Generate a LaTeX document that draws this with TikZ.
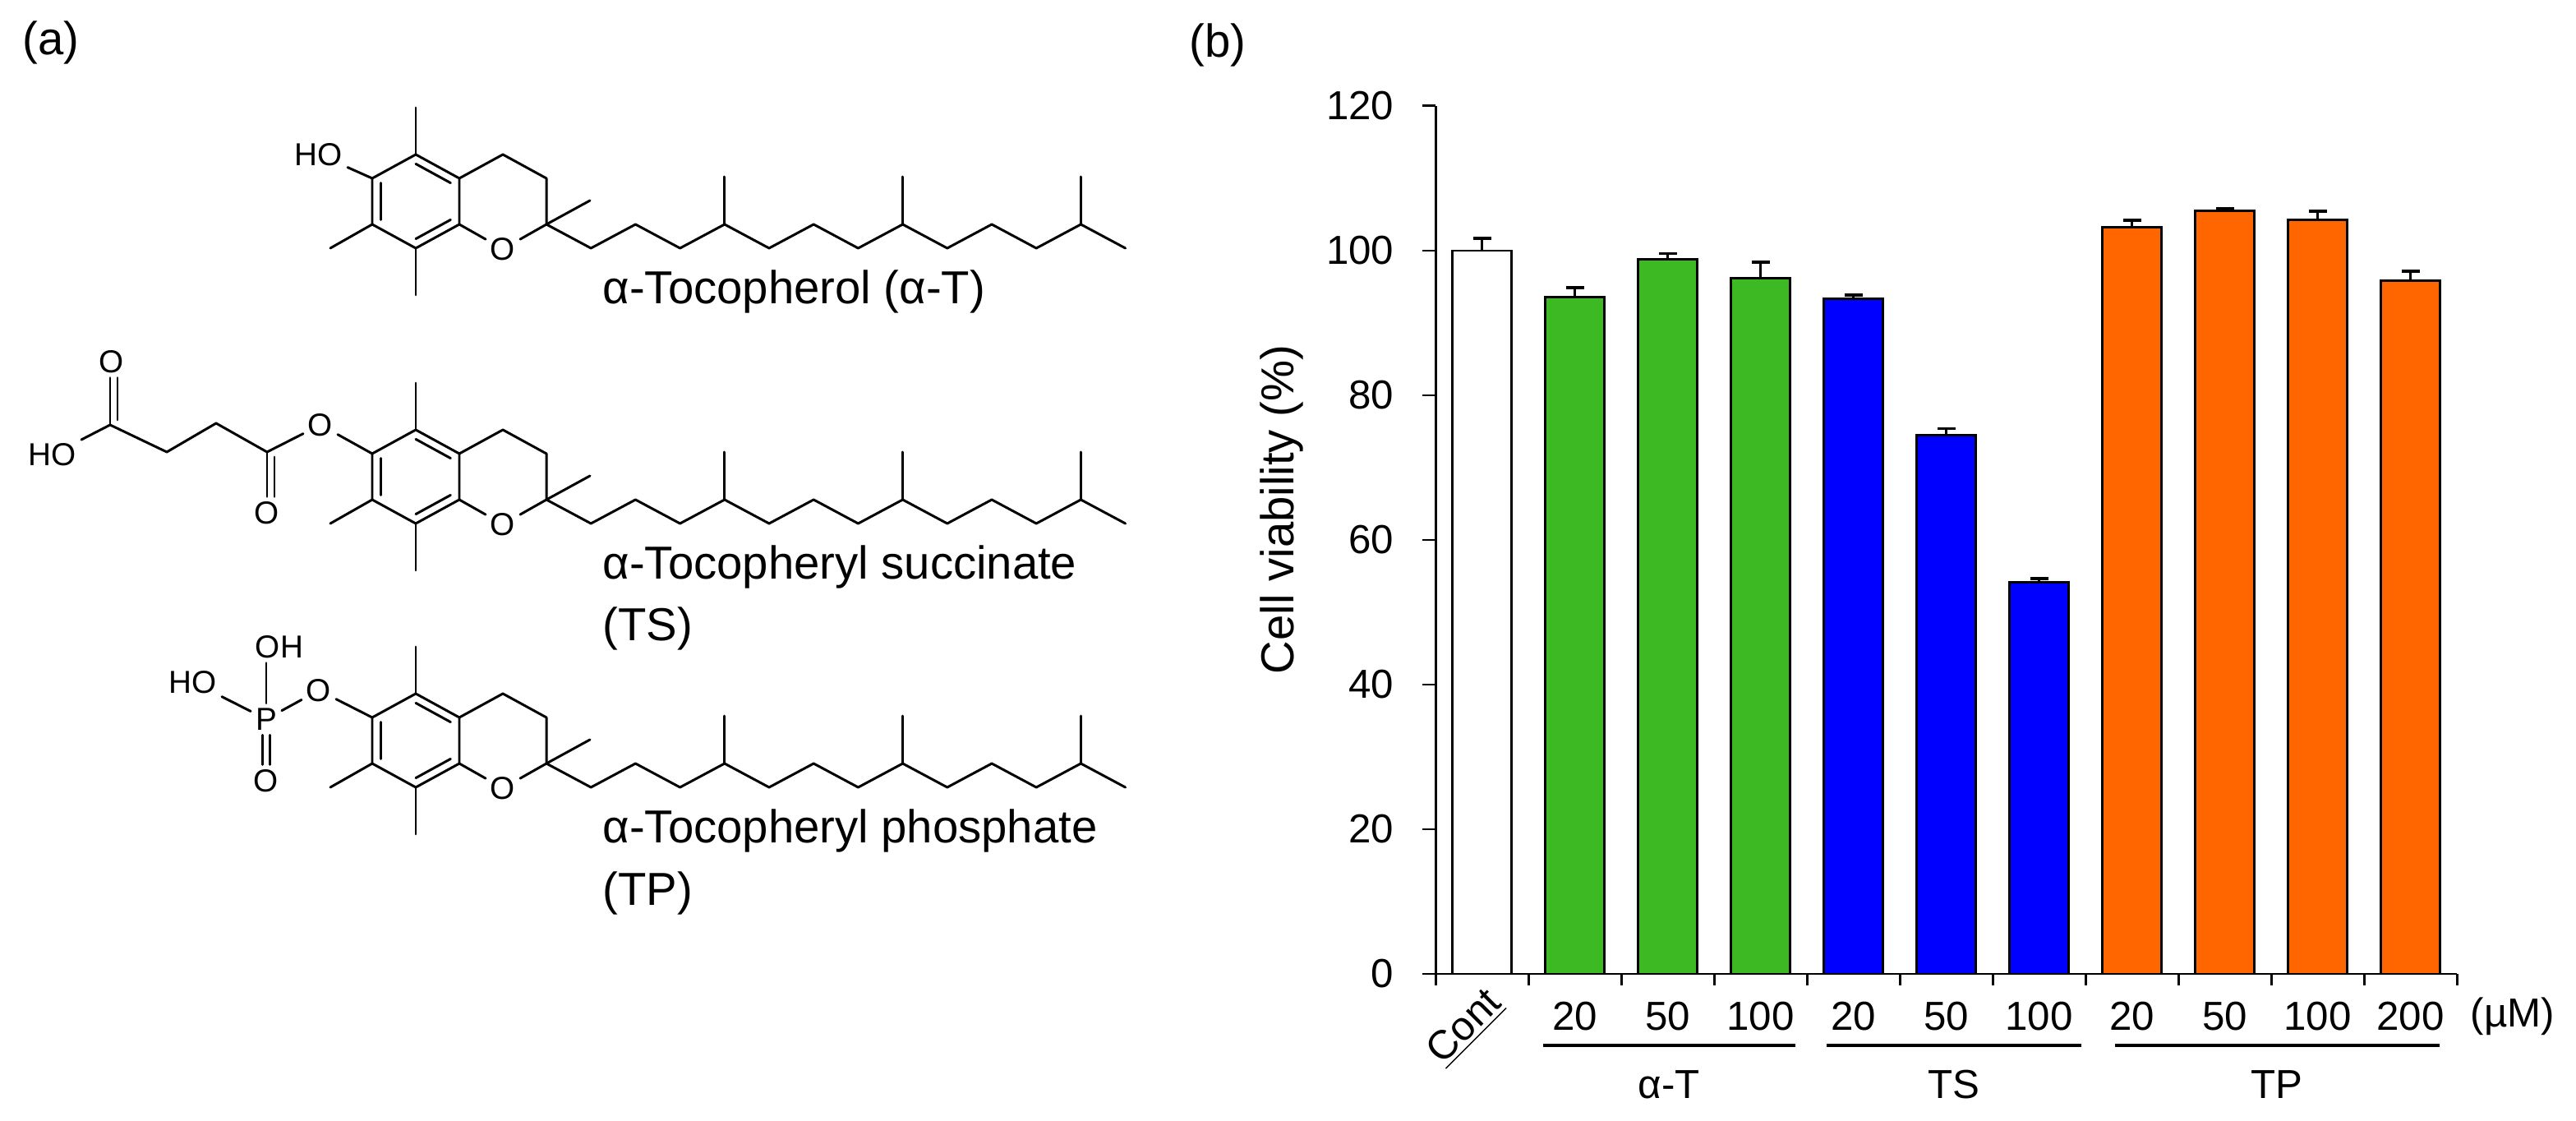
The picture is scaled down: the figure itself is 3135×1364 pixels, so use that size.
\documentclass[tikz,border=0pt]{standalone}
\usepackage{fontspec}
\setmainfont{Liberation Sans}
\usetikzlibrary{calc}
\definecolor{tgreen}{RGB}{60,185,35}
\definecolor{tblue}{RGB}{0,0,255}
\definecolor{torange}{RGB}{255,102,0}
\tikzset{
  bond/.style={line width=0.85pt, line cap=round, line join=round},
  atom/.style={font=\fontsize{11pt}{13pt}\selectfont, inner sep=1.5pt},
  mlabel/.style={font=\fontsize{16pt}{19pt}\selectfont, anchor=west, inner sep=0pt},
  tlabel/.style={font=\fontsize{14pt}{17pt}\selectfont, inner sep=0pt},
  barbox/.style={line width=0.85pt, draw=black},
}
\newcommand{\tococore}[2]{%
  \begin{scope}[shift={(#1,#2)}]
    \coordinate (C) at (0,0);
    \coordinate (T) at (0,-57); \coordinate (UR) at (53,-28);
    \coordinate (LR) at (53,28); \coordinate (B) at (0,57);
    \coordinate (LL) at (-53,28); \coordinate (UL) at (-53,-28);
    \coordinate (PT) at (106,-57); \coordinate (PUR) at (159,-28);
    \coordinate (C2) at (159,28);
    \node[atom] (Or) at (106,58) {O};
    \draw[bond] (T)--(UR)--(LR)--(B)--(LL)--(UL)--cycle;
    \draw[bond] ($(C)!0.8!(T)$)--($(C)!0.8!(UR)$);
    \draw[bond] ($(C)!0.8!(UL)$)--($(C)!0.8!(LL)$);
    \draw[bond] ($(C)!0.8!(B)$)--($(C)!0.8!(LR)$);
    \draw[bond] (T)--++(0,-57);
    \draw[bond] (B)--++(0,57);
    \draw[bond] (LL)--++(-51,29);
    \draw[bond] (UR)--(PT)--(PUR)--(C2)--(Or)--(LR);
    \draw[bond] (C2)--++(53,-29);
    \draw[bond] (C2) \foreach \i in {1,...,13}{ -- ({159+54.2*\i},{ifthenelse(mod(\i,2)==1,57,28)}) };
    \foreach \i in {4,8,12} \draw[bond] ({159+54.2*\i},28)--++(0,-58);
  \end{scope}}
\begin{document}
\begin{tikzpicture}[x=0.01cm,y=-0.01cm]
\useasboundingbox (0,0) rectangle (3135,1364);
\node[mlabel, anchor=center] (pa) at (62,52) {(a)};
\node[mlabel, anchor=center] (pb) at (1482,55) {(b)};

% molecule 1
\tococore{506}{245}
\node[atom] (HO1) at (388,188) {HO};
\draw[bond] (HO1)--(UL);
\node[mlabel] (L1) at (733,355) {α-Tocopherol (α-T)};

% molecule 2
\tococore{506}{580}
\node[atom] (Oe2) at (390,517) {O};
\coordinate (Cc) at (325,550);
\node[atom] (Oc) at (325,624) {O};
\coordinate (C2c) at (263,515);
\coordinate (C3c) at (203,550);
\coordinate (C4c) at (134,517);
\node[atom] (Ot) at (136,440) {O};
\node[atom] (HO2) at (64,553) {HO};
\draw[bond] (UL)--(Oe2)--(Cc)--(C2c)--(C3c)--(C4c)--(HO2);
\draw[bond] (Cc)--(Oc.north -| Cc);
\draw[bond] ($(Cc)+(9,6)$)--($(Oc.north)+(9,0)$);
\draw[bond] (C4c)--(Ot.south -| C4c);
\draw[bond] ($(C4c)+(9,-6)$)--($(Ot.south)+(7,0)$);
\node[mlabel] (L2) at (733,690) {α-Tocopheryl succinate};
\node[mlabel] (L2b) at (733,765) {(TS)};

% molecule 3
\tococore{506}{901}
\node[atom] (P3) at (324,875) {P};
\node[atom] (Oe3) at (388,840) {O};
\node[atom] (OH3) at (340,787) {OH};
\node[atom] (HO3) at (235,830) {HO};
\node[atom] (Ob3) at (324,950) {O};
\draw[bond] (UL)--(Oe3)--(P3)--(HO3);
\draw[bond] (P3.north)--(P3.north |- OH3.south);
\draw[bond] ($(P3.south)+(-4.5,0)$)--($(Ob3.north)+(-4.5,0)$);
\draw[bond] ($(P3.south)+(4.5,0)$)--($(Ob3.north)+(4.5,0)$);
\node[mlabel] (L3) at (733,1011) {α-Tocopheryl phosphate};
\node[mlabel] (L3b) at (733,1087) {(TP)};

% chart
\node[font=\fontsize{16pt}{19pt}\selectfont, rotate=90, inner sep=0pt] (ylab) at (1560,620) {Cell viability (\%)};
\coordinate (ytop) at (1747,129);
\coordinate (org) at (1747,1185);
\coordinate (xend) at (2990,1185);
\foreach \v in {0,20,...,120}{
  \draw[bond, line cap=butt] (1731,{1185-8.8*\v})--(1747,{1185-8.8*\v});
  \node[tlabel, anchor=east] (yl\v) at (1697,{1185-8.8*\v}) {\v};
}
\foreach \k in {0,...,11} \draw[bond, line cap=butt] ({1747+113*\k},1185)--++(0,14);
\foreach \k/\v/\e/\col in {0/100/1.7/white,1/93.6/1.3/tgreen,2/98.8/0.8/tgreen,3/96.2/2.2/tgreen,
  4/93.4/0.5/tblue,5/74.5/0.9/tblue,6/54.2/0.5/tblue,
  7/103.2/1.0/torange,8/105.5/0.3/torange,9/104.3/1.2/torange,10/95.9/1.3/torange}{
  \pgfmathsetmacro{\cx}{1803.5+113*\k}
  \pgfmathsetmacro{\top}{1185-8.8*\v}
  \pgfmathsetmacro{\et}{1185-8.8*(\v+\e)}
  \draw[barbox, fill=\col] ({\cx-36},1185) rectangle ({\cx+36},\top);
  \draw[bond, line cap=butt] (\cx,\top)--(\cx,\et);
  \draw[line width=1.1pt] ({\cx-11},\et)--({\cx+11},\et);
}
\draw[bond, line cap=butt] (ytop)--(org)--(xend);
\node[tlabel, rotate=45] (cont) at (1783,1250) {\underline{Cont}};
\foreach \k/\t in {1/20,2/50,3/100,4/20,5/50,6/100,7/20,8/50,9/100,10/200}
  \node[tlabel] (n\k) at ({1803.5+113*\k},1237) {\t};
\node[tlabel] (um) at (3058,1237) {(µM)};
\draw[line width=1.3pt] (1878,1272)--(2185,1272);
\draw[line width=1.3pt] (2223,1272)--(2533,1272);
\draw[line width=1.3pt] (2574,1272)--(2969,1272);
\node[tlabel] (gaT) at (2031,1320) {α-T};
\node[tlabel] (gTS) at (2378,1320) {TS};
\node[tlabel] (gTP) at (2771,1320) {TP};
\end{tikzpicture}
\end{document}
